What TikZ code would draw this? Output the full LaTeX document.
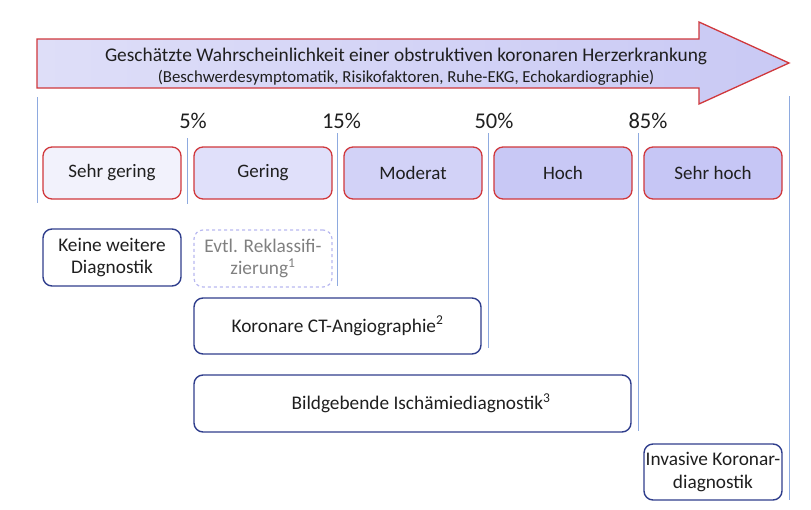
\documentclass[tikz,border=0pt]{standalone}
\usepackage{fontspec}
\setmainfont{Carlito}
\definecolor{catred}{HTML}{D0383C}
\definecolor{navy}{HTML}{2F3E8C}
\definecolor{sepblue}{HTML}{8EAADF}
\definecolor{lav}{HTML}{B9B9F0}
\definecolor{arrL}{HTML}{DEDEF8}
\definecolor{arrR}{HTML}{C9C9F4}
\definecolor{c1}{HTML}{F2F2FC}
\definecolor{c2}{HTML}{E0E0FA}
\definecolor{c3}{HTML}{D2D2F7}
\definecolor{c4}{HTML}{C8C8F5}
\definecolor{c5}{HTML}{C6C6F5}
\begin{document}
\begin{tikzpicture}[x=1pt,y=-1pt,
  catbox/.style={draw=catred, line width=1.3pt, rounded corners=9pt, minimum width=138pt, minimum height=52pt, inner sep=0pt, font=\fontsize{19}{22}\selectfont, text=black!88},
  diagbox/.style={draw=navy, line width=1.4pt, rounded corners=9pt, minimum height=57pt, inner sep=0pt, font=\fontsize{19.3}{22.5}\selectfont, align=center, text=black!88},
  pct/.style={font=\fontsize{22.5}{26}\selectfont, text=black!88, anchor=base},
  sep/.style={draw=sepblue, line width=0.9pt}
]
\useasboundingbox (0,0) rectangle (811,509);
% arrow
\draw[catred, line width=1.3pt, left color=arrL, right color=arrR, line join=miter]
  (37,39) -- (699,39) -- (699,22) -- (789,63) -- (699,104) -- (699,88) -- (37,88) -- cycle;
\node[font=\fontsize{19.35}{22}\selectfont, text=black!88, anchor=base] (title) at (406,61) {Geschätzte Wahrscheinlichkeit einer obstruktiven koronaren Herzerkrankung};
\node[font=\fontsize{16.8}{19}\selectfont, text=black!88, anchor=base] (sub) at (406,82) {(Beschwerdesymptomatik, Risikofaktoren, Ruhe-EKG, Echokardiographie)};
% separators
\draw[sep] (37,97) -- (37,203);
\draw[sep] (187,138) -- (187,204);
\draw[sep] (337,133) -- (337,286);
\draw[sep] (488,133) -- (488,348);
\draw[sep] (638,133) -- (638,431);
\draw[sep] (789,96) -- (789,500);
% percentages
\node[pct] (p5) at (193,128) {5\%};
\node[pct] (p15) at (341.5,128) {15\%};
\node[pct] (p50) at (494,128) {50\%};
\node[pct] (p85) at (648,128) {85\%};
% categories
\node[catbox, fill=c1] (c1) at (112,173) {Sehr gering};
\node[catbox, fill=c2] (c2) at (263,173) {Gering};
\node[catbox, fill=c3] (c3) at (413,173) {Moderat};
\node[catbox, fill=c4] (c4) at (563,173) {Hoch};
\node[catbox, fill=c5] (c5) at (713,173) {Sehr hoch};
% diagnostics
\node[diagbox, minimum width=138pt] (keine) at (112,257.5) {Keine weitere\\Diagnostik};
\node[diagbox, minimum width=138pt, draw=lav, dashed, line width=1.2pt, text=black!50] (evtl) at (263,258.5) {Evtl. Reklassifi-\\zierung\textsuperscript{1}};
\node[diagbox, minimum width=287pt, minimum height=56pt] (ct) at (337.5,326) {Koronare CT-Angiographie\textsuperscript{2}};
\node[diagbox, minimum width=437pt] (isch) at (412.5,403.5) {\hspace*{17pt}Bildgebende Ischämiediagnostik\textsuperscript{3}};
\node[diagbox, minimum width=138pt, minimum height=56pt] (inv) at (713,472) {Invasive Koronar-\\diagnostik};
\end{tikzpicture}
\end{document}
